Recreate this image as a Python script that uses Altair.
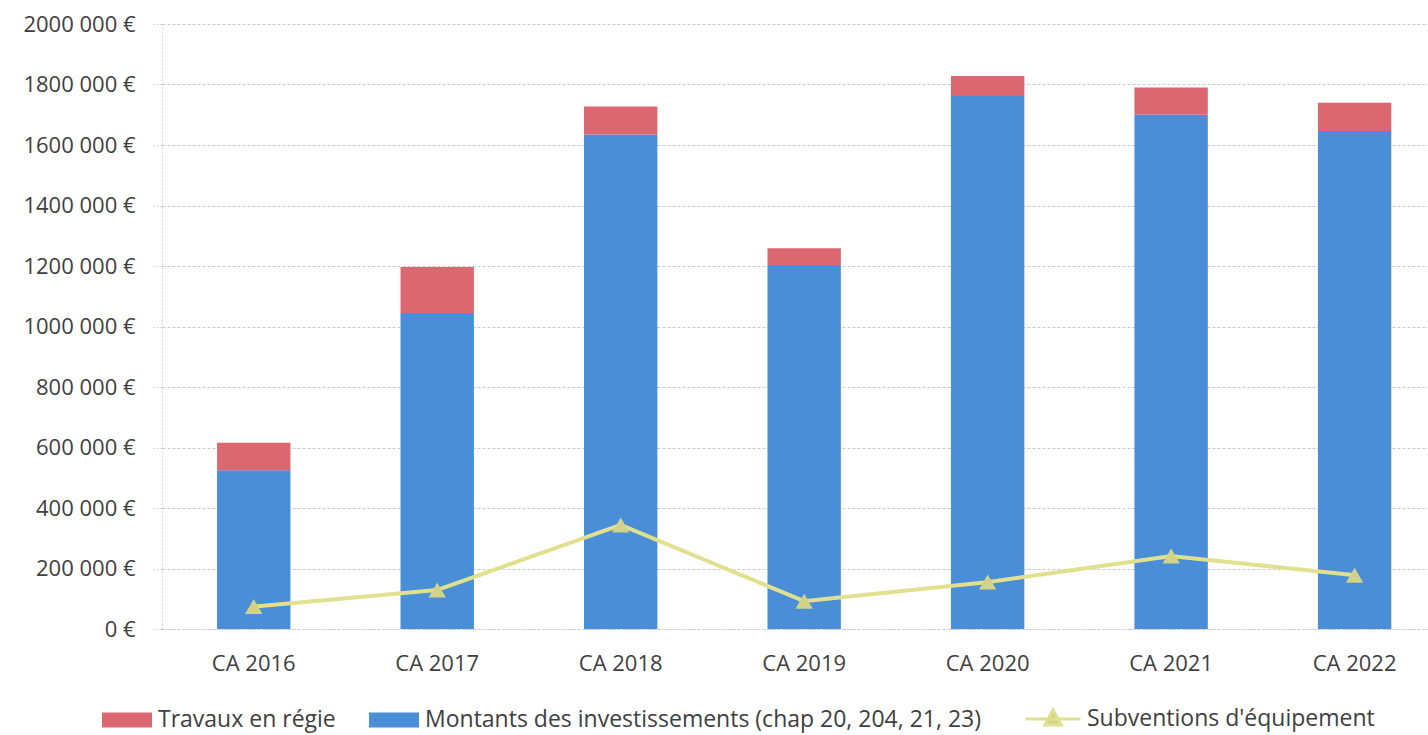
import altair as alt
import pandas as pd

years = ["CA 2016", "CA 2017", "CA 2018", "CA 2019", "CA 2020", "CA 2021", "CA 2022"]
montants = [525000, 1045000, 1635000, 1203000, 1762000, 1700000, 1646000]
travaux = [91000, 152000, 92000, 56000, 66000, 90000, 94000]
subventions = [74000, 129000, 344000, 92000, 155000, 241000, 178000]

S_TRAV = "Travaux en régie"
S_MONT = "Montants des investissements (chap 20, 204, 21, 23)"
S_SUBV = "Subventions d'équipement"

bar_series = [S_TRAV, S_MONT]
bar_colors = ["#DB6770", "#4A8ED7"]
LINE_COLOR = "#E0E08E"
TRI_COLOR = "#D2D389"

rows = []
for i, y in enumerate(years):
    rows.append({"annee": y, "serie": S_MONT, "valeur": montants[i], "ordre": 0})
    rows.append({"annee": y, "serie": S_TRAV, "valeur": travaux[i], "ordre": 1})
bars_df = pd.DataFrame(rows)
line_df = pd.DataFrame({"annee": years, "serie": [S_SUBV] * len(years), "valeur": subventions})

FONT = "Open Sans"
TXT = "#404040"

x_enc = alt.X(
    "annee:N",
    sort=years,
    title=None,
    scale=alt.Scale(paddingInner=0.6, paddingOuter=0.25, align=0.6),
    axis=alt.Axis(
        labelAngle=0, labelFont=FONT, labelFontSize=22, labelColor=TXT,
        labelPadding=24, ticks=False, domainColor="#d0d0d8", domainDash=[2, 2],
        grid=False,
    ),
)

y_enc = alt.Y(
    "valeur:Q",
    stack="zero",
    title=None,
    scale=alt.Scale(domain=[0, 2000000], nice=False),
    axis=alt.Axis(
        values=[0, 200000, 400000, 600000, 800000, 1000000, 1200000, 1400000, 1600000, 1800000, 2000000],
        labelExpr="datum.value == 0 ? '0 €' : floor(datum.value / 1000) + ' 000 €'",
        labelFont=FONT, labelFontSize=22, labelColor=TXT, labelPadding=18,
        tickSize=9, tickColor="#c8c8d8", tickDash=[2, 2],
        grid=True, gridColor="#c8c8d8", gridDash=[3, 2], gridWidth=1,
        domain=True, domainColor="#d0d0d8", domainDash=[2, 2],
    ),
)

rect_path = "M-1,-0.3H1V0.3H-1Z"
line_path = "M-1,0H1M0,-0.34L0.3,0.22L-0.3,0.22Z"

bar_legend = alt.Legend(
    title=None,
    orient="none",
    legendX=-60,
    legendY=671,
    direction="horizontal",
    columns=2,
    symbolType=rect_path,
    symbolSize=2500,
    symbolStrokeWidth=0,
    symbolOpacity=1,
    labelFont=FONT,
    labelFontSize=23,
    labelColor=TXT,
    labelOffset=6,
    labelLimit=0,
    columnPadding=33,
)

line_legend = alt.Legend(
    title=None,
    orient="none",
    legendX=862,
    legendY=666,
    direction="horizontal",
    symbolType=line_path,
    symbolSize=3000,
    symbolStrokeWidth=3,
    symbolStrokeColor=LINE_COLOR,
    symbolFillColor=TRI_COLOR,
    symbolOpacity=1,
    labelFont=FONT,
    labelFontSize=23,
    labelColor=TXT,
    labelOffset=5,
    labelLimit=0,
)

bars = alt.Chart(bars_df).mark_bar().encode(
    x=x_enc,
    y=y_enc,
    color=alt.Color("serie:N", scale=alt.Scale(domain=bar_series, range=bar_colors), legend=bar_legend),
    order=alt.Order("ordre:Q"),
)

line = alt.Chart(line_df).mark_line(strokeWidth=4, color=LINE_COLOR).encode(
    x=alt.X("annee:N", sort=years),
    y=alt.Y("valeur:Q"),
    strokeDash=alt.StrokeDash("serie:N", scale=alt.Scale(domain=[S_SUBV], range=[[1, 0]]), legend=line_legend),
)

points = alt.Chart(line_df).mark_point(
    shape="triangle-up", size=300, filled=True, color=TRI_COLOR, opacity=1
).encode(
    x=alt.X("annee:N", sort=years),
    y=alt.Y("valeur:Q"),
)

chart = alt.layer(bars, line, points).properties(
    width=1266,
    height=605,
    autosize=alt.AutoSizeParams(type="none"),
    padding={"left": 162, "top": 24, "right": 0, "bottom": 106},
    background="white",
).configure_view(stroke=None)

chart.save("out.html", embed_options={"renderer": "svg", "actions": False})
